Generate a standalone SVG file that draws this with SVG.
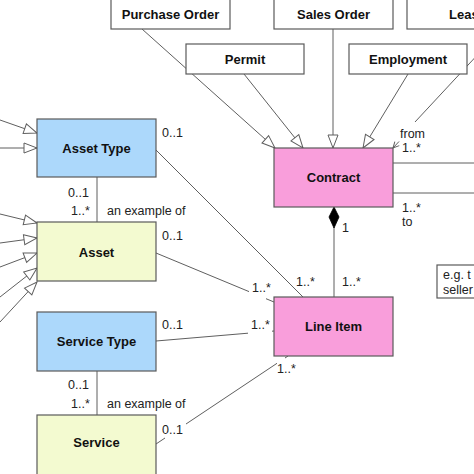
<svg xmlns="http://www.w3.org/2000/svg" width="474" height="474" viewBox="0 0 474 474">
<style>
.box{stroke:#5a5a5a;stroke-width:1.2}
.w{fill:#ffffff}
.blue{fill:#acd8fb}
.yel{fill:#f3fad0}
.pink{fill:#f99edb}
.t{font-family:"Liberation Sans",Arial,sans-serif;font-weight:bold;font-size:13px;fill:#111;text-anchor:middle}
.l{font-family:"Liberation Sans",Arial,sans-serif;font-size:12.5px;fill:#222}
.c{stroke:#5f5f5f;stroke-width:1;fill:none}
</style>
<defs>
<marker id="tri" markerUnits="userSpaceOnUse" markerWidth="16" markerHeight="12" refX="13" refY="5" orient="auto" overflow="visible">
<path d="M0,0 L13,5 L0,10 Z" fill="#fff" stroke="#5f5f5f" stroke-width="1"/>
</marker>
<marker id="vee" markerUnits="userSpaceOnUse" markerWidth="8" markerHeight="8" refX="6" refY="3" orient="auto" overflow="visible">
<path d="M0,0 L6,3 L0,6" fill="none" stroke="#5f5f5f" stroke-width="1"/>
</marker>
</defs>
<rect width="474" height="474" fill="#fff"/>
<g id="connectors">
<line class="c" x1="142" y1="29" x2="275" y2="148" marker-end="url(#tri)"/>
<line class="c" x1="244" y1="74" x2="303" y2="148" marker-end="url(#tri)"/>
<line class="c" x1="333" y1="29" x2="333" y2="148" marker-end="url(#tri)"/>
<line class="c" x1="408" y1="74" x2="363" y2="148" marker-end="url(#tri)"/>
<line class="c" x1="482" y1="50" x2="415" y2="122"/>
<line class="c" x1="399" y1="141.5" x2="393" y2="148" marker-end="url(#vee)"/>
<line class="c" x1="393" y1="163" x2="474" y2="163"/>
<line class="c" x1="393" y1="193" x2="474" y2="193"/>
<line class="c" x1="334" y1="227" x2="334" y2="297"/>
<path d="M334,207 L339,217 L334,228 L329,217 Z" fill="#000" stroke="#000" stroke-width="0.8"/>
<line class="c" x1="0" y1="120" x2="37" y2="133" marker-end="url(#tri)"/>
<line class="c" x1="0" y1="148" x2="37" y2="148" marker-end="url(#tri)"/>
<line class="c" x1="0" y1="214" x2="37" y2="223" marker-end="url(#tri)"/>
<line class="c" x1="0" y1="243" x2="37" y2="238" marker-end="url(#tri)"/>
<line class="c" x1="0" y1="267" x2="37" y2="253" marker-end="url(#tri)"/>
<line class="c" x1="0" y1="297" x2="37" y2="268" marker-end="url(#tri)"/>
<line class="c" x1="0" y1="322" x2="37" y2="282" marker-end="url(#tri)"/>
<line class="c" x1="97" y1="177" x2="97" y2="222"/>
<line class="c" x1="97" y1="371" x2="97" y2="415"/>
<line class="c" x1="156" y1="150" x2="303" y2="297"/>
<line class="c" x1="156" y1="253" x2="249" y2="291.6"/>
<line class="c" x1="266" y1="298.7" x2="274" y2="302"/>
<line class="c" x1="156" y1="341" x2="248" y2="333.2"/>
<line class="c" x1="272" y1="331.2" x2="274" y2="331"/>
<line class="c" x1="156" y1="444" x2="165" y2="438"/>
<line class="c" x1="186" y1="424" x2="277" y2="363.3"/>
<line class="c" x1="285" y1="358" x2="288" y2="356"/>
</g>
<g id="purchase-order"><rect class="box w" x="111" y="-1" width="119" height="30"/><text class="t" x="170.5" y="18.5">Purchase Order</text></g>
<g id="sales-order"><rect class="box w" x="274" y="-1" width="119" height="30"/><text class="t" x="333.5" y="18.5">Sales Order</text></g>
<g id="lease"><rect class="box w" x="407" y="-1" width="119" height="30"/><text class="t" x="449" y="18.5" style="text-anchor:start">Lease</text></g>
<g id="permit"><rect class="box w" x="186" y="44" width="118" height="30"/><text class="t" x="245" y="63.5">Permit</text></g>
<g id="employment"><rect class="box w" x="349" y="44" width="118" height="30"/><text class="t" x="408" y="63.5">Employment</text></g>
<g id="contract"><rect class="box pink" x="274" y="148" width="119" height="59"/><text class="t" x="333.5" y="182">Contract</text></g>
<g id="line-item"><rect class="box pink" x="274" y="297" width="119" height="59"/><text class="t" x="333.5" y="331">Line Item</text></g>
<g id="asset-type"><rect class="box blue" x="37" y="119" width="119" height="58"/><text class="t" x="96.5" y="153">Asset Type</text></g>
<g id="asset"><rect class="box yel" x="37" y="222" width="119" height="59"/><text class="t" x="96.5" y="256.5">Asset</text></g>
<g id="service-type"><rect class="box blue" x="37" y="312" width="119" height="59"/><text class="t" x="96.5" y="346">Service Type</text></g>
<g id="service"><rect class="box yel" x="37" y="415" width="119" height="70"/><text class="t" x="96.5" y="447">Service</text></g>
<g id="note"><rect class="box w" x="437" y="265" width="60" height="33"/><text class="l" x="443" y="279">e.g. t</text><text class="l" x="443" y="294">seller</text></g>
<g id="labels">
<text class="l" x="162" y="137">0..1</text>
<text class="l" x="68" y="197">0..1</text>
<text class="l" x="71" y="215">1..*</text>
<text class="l" x="107" y="215">an example of</text>
<text class="l" x="162" y="240">0..1</text>
<text class="l" x="400" y="138">from</text>
<text class="l" x="402" y="152">1..*</text>
<text class="l" x="402" y="212">1..*</text>
<text class="l" x="402" y="226">to</text>
<text class="l" x="342" y="232">1</text>
<text class="l" x="296" y="286">1..*</text>
<text class="l" x="342" y="286">1..*</text>
<text class="l" x="252" y="292">1..*</text>
<text class="l" x="162" y="329">0..1</text>
<text class="l" x="251" y="329">1..*</text>
<text class="l" x="277" y="373">1..*</text>
<text class="l" x="68" y="389">0..1</text>
<text class="l" x="71" y="408">1..*</text>
<text class="l" x="107" y="408">an example of</text>
<text class="l" x="162" y="434">0..1</text>
</g>
</svg>
